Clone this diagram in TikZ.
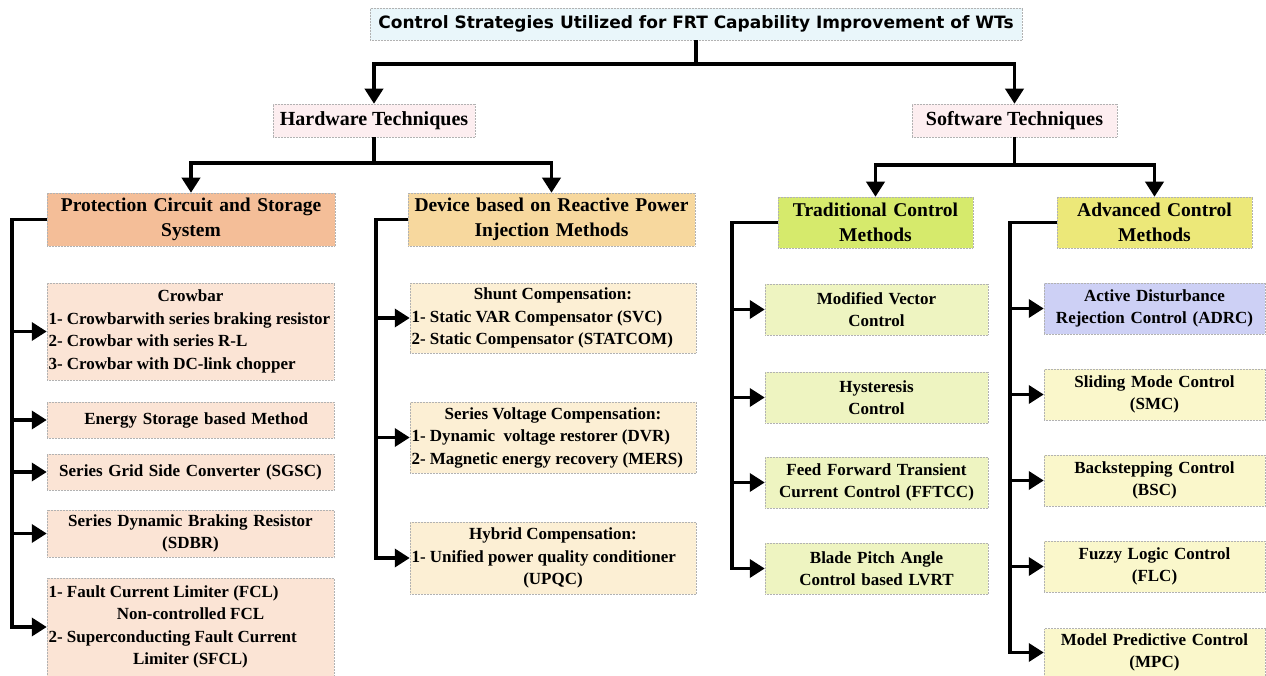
\documentclass[tikz,border=0pt]{standalone}
\usepackage{fontspec}
\setmainfont{Liberation Serif}
\newfontfamily\titlefont{DejaVu Sans}
\usetikzlibrary{arrows.meta}

\definecolor{titlefill}{HTML}{E9F6FA}
\definecolor{techfill}{HTML}{FDEEF0}
\definecolor{protfill}{HTML}{F4BE98}
\definecolor{devfill}{HTML}{F7D89E}
\definecolor{tradfill}{HTML}{D6EA6C}
\definecolor{advfill}{HTML}{ECE879}
\definecolor{protleaf}{HTML}{FBE4D5}
\definecolor{devleaf}{HTML}{FCEFD4}
\definecolor{tradleaf}{HTML}{EEF4C1}
\definecolor{advleaf}{HTML}{FAF7CB}
\definecolor{adrcfill}{HTML}{CDD0F5}

% a line centred inside a flush-left box
\newcommand{\ctrline}[1]{\hfill#1\hfill\null}

\tikzset{
  box/.style={draw=gray!60, densely dotted, line width=0.5pt, inner xsep=1.5pt, inner ysep=0pt},
  titlebox/.style={box, fill=titlefill, minimum width=652pt, minimum height=32pt,
    font=\titlefont\bfseries\fontsize{17}{20}\selectfont},
  techbox/.style={box, fill=techfill, minimum height=33pt, font=\bfseries\fontsize{20}{24}\selectfont},
  catbox/.style={box, align=center, minimum height=53pt, font=\bfseries\fontsize{19.5}{25}\selectfont},
  leafbox/.style={box, font=\bfseries\fontsize{17}{22.5}\selectfont},
  protbox/.style={leafbox, fill=protleaf, text width=284pt},
  devbox/.style={leafbox, fill=devleaf, text width=283pt},
  tradbox/.style={leafbox, fill=tradleaf, align=center, text width=220pt, minimum height=51pt},
  advbox/.style={leafbox, fill=advleaf, align=center, text width=218pt, minimum height=51pt},
  link/.style={line width=3.6pt},
  arr/.style={link, -{Triangle[length=15pt,width=18pt]}}
}

\begin{document}
\begin{tikzpicture}[x=1pt, y=-1pt]

\fill[white] (0,0) rectangle (1266,676);
\useasboundingbox (0,0) rectangle (1266,676);

% First, the top of the tree
\node[titlebox] (title) at (696,24) {Control Strategies Utilized for FRT Capability Improvement of WTs};
\node[techbox, minimum width=202pt] (hw) at (374,120.5) {Hardware Techniques};
\node[techbox, minimum width=205pt] (sw) at (1014.5,120.5) {Software Techniques};

\node[catbox, fill=protfill, text width=285pt] (prot) at (191,219.5) {Protection Circuit and Storage\\System};
\node[catbox, fill=devfill, text width=284pt] (dev) at (551.5,219.5) {Device based on Reactive Power\\Injection Methods};
\node[catbox, fill=tradfill, text width=192pt, minimum height=51pt] (trad) at (875.5,222.5) {Traditional Control\\Methods};
\node[catbox, fill=advfill, text width=192pt, minimum height=51pt] (adv) at (1154.5,222.5) {Advanced Control\\Methods};

% Protection circuit column
\node[protbox, align=flush left, minimum height=97pt] (crow) at (190.5,331.5) {\ctrline{Crowbar}\\1- Crowbarwith series braking resistor\\2- Crowbar with series R-L\\3- Crowbar with DC-link chopper};
\node[protbox, align=center, minimum height=36pt] (ess) at (190.5,420) {\ \ Energy Storage based Method};
\node[protbox, align=center, minimum height=36pt] (sgsc) at (190.5,472) {Series Grid Side Converter (SGSC)};
\node[protbox, align=center, minimum height=47pt] (sdbr) at (190.5,533.5) {Series Dynamic Braking Resistor\\(SDBR)};
\node[protbox, align=flush left, minimum height=98pt] (fcl) at (190.5,627) {1- Fault Current Limiter (FCL)\\\ctrline{Non-controlled FCL}\\2- Superconducting Fault Current\\\ctrline{Limiter (SFCL)}};

% Reactive power column
\node[devbox, align=flush left, minimum height=70pt] (shunt) at (553,318) {\ctrline{Shunt Compensation:}\\1- Static VAR Compensator (SVC)\\2- Static Compensator (STATCOM)};
\node[devbox, align=flush left, minimum height=71pt] (ser) at (553,437.5) {\ctrline{Series Voltage Compensation:}\\1- Dynamic\ \ voltage restorer (DVR)\\2- Magnetic energy recovery (MERS)};
\node[devbox, align=flush left, minimum height=72pt] (hyb) at (553,558) {\ctrline{Hybrid Compensation:}\\1- Unified power quality conditioner\\\ctrline{(UPQC)}};

% Traditional control column
\node[tradbox] (mvc) at (876.5,309.5) {Modified Vector\\Control};
\node[tradbox] (hys) at (876.5,397.5) {Hysteresis\\Control};
\node[tradbox] (fftcc) at (876.5,482.5) {Feed Forward Transient\\Current Control (FFTCC)};
\node[tradbox] (bpa) at (876.5,568.5) {Blade Pitch Angle\\Control based LVRT};

% Advanced control column
\node[advbox, fill=adrcfill] (adrc) at (1154.5,308.5) {Active Disturbance\\Rejection Control (ADRC)};
\node[advbox] (smc) at (1154.5,394.5) {Sliding Mode Control\\(SMC)};
\node[advbox] (bsc) at (1154.5,480.5) {Backstepping Control\\(BSC)};
\node[advbox] (flc) at (1154.5,566.5) {Fuzzy Logic Control\\(FLC)};
\node[advbox, minimum height=48pt] (mpc) at (1154.5,652.5) {Model Predictive Control\\(MPC)};

% Junctions and buses
\coordinate (j0) at (696,64);
\coordinate (j1) at (374,163);
\coordinate (j2) at (1014.5,165);
\coordinate (b1) at (12,0);
\coordinate (b2) at (376,0);
\coordinate (b3) at (732,0);
\coordinate (b4) at (1010,0);

% Now the connectors
\draw[link] (title.south) -- (j0);
\draw[arr] (j0) -| (hw.north);
\draw[arr] (j0) -| (sw.north);

\draw[link] (hw.south) -- (j1);
\draw[arr] (j1) -| (prot.north);
\draw[arr] (j1) -| (dev.north);

\draw[link] (sw.south) -- (j2);
\draw[arr] (j2) -| (trad.north);
\draw[arr] (j2) -| (adv.north);

\foreach \c in {crow,ess,sgsc,sdbr,fcl}
  \draw[arr] (prot.west) -- (prot.west -| b1) |- (\c.west);
\foreach \c in {shunt,ser,hyb}
  \draw[arr] (dev.west) -- (dev.west -| b2) |- (\c.west);
\foreach \c in {mvc,hys,fftcc,bpa}
  \draw[arr] (trad.west) -- (trad.west -| b3) |- (\c.west);
\foreach \c in {adrc,smc,bsc,flc,mpc}
  \draw[arr] (adv.west) -- (adv.west -| b4) |- (\c.west);

\end{tikzpicture}
\end{document}
